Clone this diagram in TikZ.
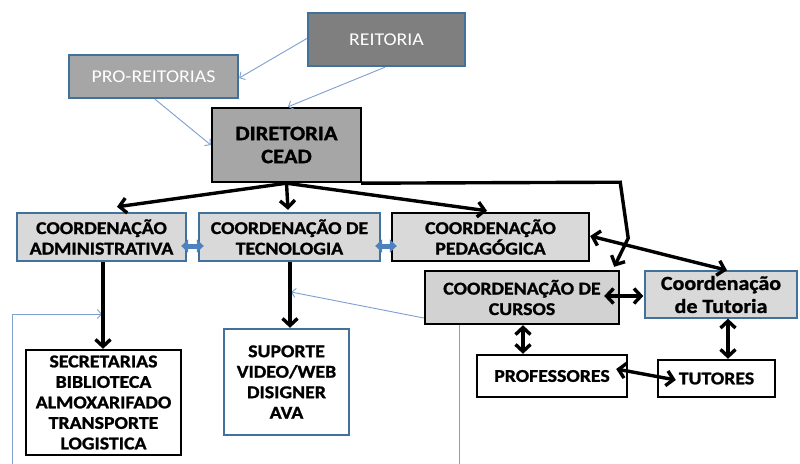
\documentclass[tikz,border=0pt]{standalone}
\usepackage{fontspec}
\setmainfont{Carlito}
\newfontfamily\widefont[FakeStretch=1.1, BoldFeatures={FakeBold=1.2}]{Carlito}
\usetikzlibrary{arrows.meta}
\definecolor{bord}{HTML}{41719C}
\definecolor{lblue}{HTML}{7F9FCF}
\definecolor{fatblue}{HTML}{4F81BD}
\definecolor{gdark}{HTML}{7F7F7F}
\definecolor{gmid}{HTML}{A6A6A6}
\definecolor{glight}{HTML}{D9D9D9}
\definecolor{gcurs}{HTML}{D2D2D2}
\tikzset{
  box/.style={rectangle, inner sep=0pt, align=center,
    font=\widefont\bfseries\fontsize{18}{20.5}\selectfont},
  bluebox/.style={box, draw=bord, line width=2.4pt},
  blackbox/.style={box, draw=black, line width=2.4pt},
  toptext/.style={font=\widefont\fontsize{18}{20}\selectfont, text=white},
  lightarr/.style={draw=lblue, line width=0.9pt, -{Straight Barb[length=4pt,width=9pt]}},
  bk/.style={draw=black, line width=3.4pt},
  bkarr/.style={bk, -{Straight Barb[length=7pt,width=15pt]}},
  bkdbl/.style={bk, {Straight Barb[length=7pt,width=15pt]}-{Straight Barb[length=7pt,width=15pt]}},
  fatdbl/.style={draw=fatblue, line width=5pt, {Triangle[length=7pt,width=13pt]}-{Triangle[length=7pt,width=13pt]}}
}
\begin{document}
\begin{tikzpicture}[x=1pt,y=-1pt]
\useasboundingbox (0,0) rectangle (800,463);
\clip (0,0) rectangle (800,463);
\fill[white] (0,0) rectangle (800,463);

% top level
\node[bluebox, toptext, fill=gdark, minimum width=157pt, minimum height=53pt] (reit) at (386.5,39.5) {REITORIA};
\node[bluebox, toptext, fill=gmid, minimum width=169pt, minimum height=43pt] (pro) at (153.5,76.5) {PRO-REITORIAS};
\node[blackbox, fill=gmid, minimum width=149pt, minimum height=74pt,
      font=\widefont\bfseries\fontsize{20.5}{23}\selectfont] (dir) at (286.5,145) {DIRETORIA\\CEAD};

% coordinations
\node[bluebox, fill=glight, minimum width=169pt, minimum height=48pt] (admin) at (101.5,237) {COORDENAÇÃO\\ADMINISTRATIVA};
\node[bluebox, fill=glight, minimum width=181pt, minimum height=48pt] (tec) at (289.5,237) {COORDENAÇÃO DE\\TECNOLOGIA};
\node[blackbox, fill=glight, minimum width=197pt, minimum height=48pt] (ped) at (490.5,237) {COORDENAÇÃO\\PEDAGÓGICA};
\node[blackbox, fill=gcurs, minimum width=194pt, minimum height=53pt] (cursos) at (522,297.5) {COORDENAÇÃO DE\\CURSOS};
\node[box, draw=bord, line width=1.4pt, fill=glight, minimum width=152pt, minimum height=47pt,
      font=\widefont\bfseries\fontsize{20}{23}\selectfont] (tut) at (721,294.5) {Coordenação\\de Tutoria};

% lower boxes
\node[blackbox, fill=white, minimum width=155pt, minimum height=105pt] (sec) at (103.5,402.5) {SECRETARIAS\\BIBLIOTECA\\ALMOXARIFADO\\TRANSPORTE\\LOGISTICA};
\node[bluebox, fill=white, minimum width=125pt, minimum height=106pt] (sup) at (286.5,382) {SUPORTE\\VIDEO/WEB\\DISIGNER\\AVA};
\node[blackbox, fill=white, minimum width=150pt, minimum height=42pt] (prof) at (552,376) {PROFESSORES};
\node[blackbox, fill=white, minimum width=117pt, minimum height=37pt] (tutores) at (716.5,378.5) {TUTORES};

% light blue connectors
\draw[lightarr] ([yshift=1]reit.west) -- ([yshift=-1.5]pro.east);
\draw[lightarr] ([xshift=-1.5]reit.south) -- ([xshift=1.5]dir.north);
\draw[lightarr] ([xshift=1.5]pro.south) -- (dir.west);
\coordinate (m1) at (291,292);
\coordinate (m2) at (102,314);
\draw[lightarr] ([yshift=-20.5]cursos.west) -- (m1);
\draw[lightarr] ([xshift=-63]cursos.south) -- ++(0,160) -| (12,314) -- (m2);

% black connectors
\draw[bkarr] (dir.south) -- ([shift={(15.5,-5)}]admin.north);
\draw[bkarr] (dir.south) -- ([shift={(-1.5,-2)}]tec.north);
\draw[bkarr] (dir.south) -- ([shift={(-3.5,-1)}]ped.north);
\draw[bkarr] ([xshift=-1]dir.south east) -- ++(259,-1) -- ++(8,56) -- ([shift={(-6,-3)}]cursos.north east);
\draw[bkdbl] ([yshift=1]ped.east) -- ([xshift=6]tut.north);
\draw[bkdbl] ([shift={(-16,-1.5)}]cursos.east) -- ([shift={(-1,1.5)}]tut.west);
\draw[bkdbl] ([xshift=1]cursos.south) -- ([xshift=-29]prof.north);
\draw[bkdbl] ([xshift=7]tut.south) -- ([xshift=11.5]tutores.north);
\draw[bkdbl] ([shift={(-12,-7)}]prof.east) -- ([shift={(19,1.5)}]tutores.west);
\draw[bkarr] ([xshift=1.5]admin.south) -- ([xshift=-0.5]sec.north);
\draw[bkarr] ([xshift=0.5]tec.south) -- ([xshift=3.5]sup.north);

% fat blue double arrows
\draw[fatdbl] ([shift={(-6,9)}]admin.east) -- ([shift={(6,9)}]tec.west);
\draw[fatdbl] ([shift={(-6,9)}]tec.east) -- ([shift={(6,9)}]ped.west);
\end{tikzpicture}
\end{document}
